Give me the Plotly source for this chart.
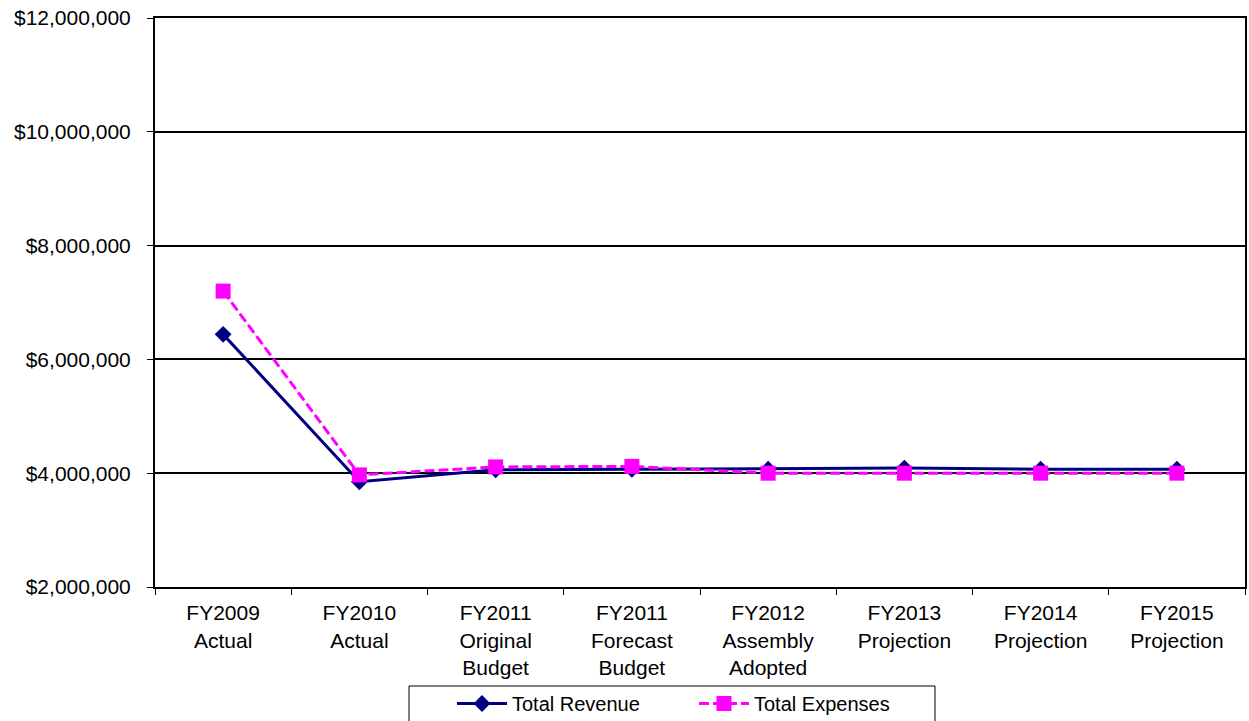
import plotly.graph_objects as go

categories = [
    "FY2009<br>Actual",
    "FY2010<br>Actual",
    "FY2011<br>Original<br>Budget",
    "FY2011<br>Forecast<br>Budget",
    "FY2012<br>Assembly<br>Adopted",
    "FY2013<br>Projection",
    "FY2014<br>Projection",
    "FY2015<br>Projection",
]
total_revenue = [6440000, 3850000, 4060000, 4070000, 4070000, 4090000, 4070000, 4070000]
total_expenses = [7200000, 3970000, 4110000, 4120000, 4000000, 4000000, 4000000, 4000000]
y_ticks = [2000000, 4000000, 6000000, 8000000, 10000000, 12000000]

font_family = "Liberation Sans, Arial, sans-serif"

# plot area in pixels
W, H = 1249, 721
L, R, T, B = 155, 4, 18, 134
pw, ph = W - L - R, H - T - B


def px_x(x):
    return (x - L) / pw


def px_y(y):
    return (H - B - y) / ph


fig = go.Figure()
fig.add_trace(go.Scatter(
    x=categories, y=total_revenue, name="Total Revenue",
    mode="lines+markers",
    line=dict(color="#000080", width=3),
    marker=dict(symbol="diamond", size=13, color="#000080"),
))
fig.add_trace(go.Scatter(
    x=categories, y=total_expenses, name="Total Expenses",
    mode="lines+markers",
    line=dict(color="#FF00FF", width=3, dash="10px,4px"),
    marker=dict(symbol="square", size=15, color="#FF00FF"),
))

# legend frame
fig.add_shape(
    type="rect", xref="paper", yref="paper",
    x0=px_x(409), x1=px_x(935), y0=px_y(730), y1=px_y(686),
    line=dict(color="black", width=1), fillcolor="rgba(0,0,0,0)",
)

fig.update_layout(
    width=W, height=H,
    margin=dict(l=L, r=R, t=T, b=B, autoexpand=False),
    paper_bgcolor="white", plot_bgcolor="white",
    font=dict(family=font_family, size=21, color="black"),
    showlegend=True,
    legend=dict(
        orientation="h", x=px_x(452), xanchor="left", y=px_y(684), yanchor="top",
        borderwidth=0, bgcolor="rgba(0,0,0,0)",
        font=dict(size=20), entrywidth=177, itemwidth=50,
    ),
)
fig.update_xaxes(
    type="category", range=[-0.5, 7.5],
    showline=True, linecolor="black", linewidth=2, mirror=True,
    ticks="outside", ticklen=6, tickcolor="black", tickson="boundaries",
    showgrid=False, tickfont=dict(size=21), ticklabelstandoff=6,
)
fig.update_yaxes(
    range=[2000000, 12000000], tickvals=y_ticks,
    ticktext=[f"${v:,.0f}" for v in y_ticks],
    showline=True, linecolor="black", linewidth=2, mirror=True,
    ticks="outside", ticklen=6, tickcolor="black",
    showgrid=True, gridcolor="black", gridwidth=1.5,
    tickfont=dict(size=21), ticklabelstandoff=12,
    zeroline=False,
)

fig.write_html("out.html")
